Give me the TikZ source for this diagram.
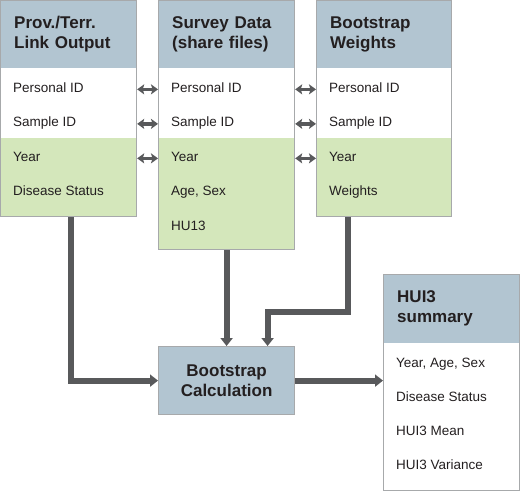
\documentclass[tikz,border=0pt]{standalone}
\usepackage{fontspec}
\setmainfont{Liberation Sans}
\usetikzlibrary{arrows.meta,positioning,calc}
\definecolor{headblue}{RGB}{178,197,209}
\definecolor{rowgreen}{RGB}{212,231,187}
\definecolor{framegray}{RGB}{167,169,171}
\definecolor{wire}{RGB}{88,89,91}
\definecolor{ink}{RGB}{35,31,32}
\tikzset{
  headcell/.style={fill=headblue, anchor=north west, minimum height=68pt, text width=108pt,
    inner xsep=14pt, inner ysep=0pt, align=left, font=\fontsize{17}{20}\selectfont\bfseries},
  tablebox/.style={draw=framegray, line width=1.2pt, anchor=north west, minimum width=136pt, inner sep=0pt},
  item/.style={anchor=base west, inner sep=0pt},
  calcbox/.style={draw=framegray, line width=1.2pt, fill=headblue, anchor=north west, minimum width=136pt,
    minimum height=68pt, align=center, font=\fontsize{17}{20}\selectfont\bfseries},
  flow/.style={-{Triangle[length=8pt,width=12pt]}, line width=6pt, draw=wire},
  link/.style={{Stealth[length=7pt,width=10pt,inset=1.5pt]}-{Stealth[length=7pt,width=10pt,inset=1.5pt]},
    line width=3.4pt, draw=wire}
}

\begin{document}
\begin{tikzpicture}[x=1pt, y=-1pt, font=\fontsize{13.5}{16}\selectfont, text=ink]
  \useasboundingbox (0,0) rectangle (520,491);

  \fill[rowgreen] (0,138) rectangle (136,216);
  \fill[rowgreen] (158,138) rectangle (294,249);
  \fill[rowgreen] (316,138) rectangle (451,216);

  \node[headcell] (prov-head) at (0,0) {Prov./Terr.\\Link Output};
  \node[headcell] (survey-head) at (158,0) {Survey Data\\(share files)};
  \node[headcell, text width=107pt] (weights-head) at (316,0) {Bootstrap\\Weights};
  \node[headcell, minimum height=69pt] (summary-head) at (383,274) {HUI3\\summary};

  \node[tablebox, minimum height=216pt] (prov) at (0,0) {};
  \node[tablebox, minimum height=249pt] (survey) at (158,0) {};
  \node[tablebox, minimum width=135pt, minimum height=216pt] (weights) at (316,0) {};
  \node[tablebox, minimum height=216pt] (summary) at (383,274) {};
  \node[calcbox] (calc) at (158,346) {Bootstrap\\Calculation};

  \node[item] (prov-pid) at (13,92) {Personal ID};
  \node[item] (prov-sid) at (13,126.5) {Sample ID};
  \node[item] (prov-year) at (13,161) {Year};
  \node[item] (prov-status) at (13,195.5) {Disease Status};

  \node[item] (survey-pid) at (171,92) {Personal ID};
  \node[item] (survey-sid) at (171,126.5) {Sample ID};
  \node[item] (survey-year) at (171,161) {Year};
  \node[item] (survey-agesex) at (171,195.5) {Age, Sex};
  \node[item] (survey-hu) at (171,230) {HU13};

  \node[item] (weights-pid) at (329,92) {Personal ID};
  \node[item] (weights-sid) at (329,126.5) {Sample ID};
  \node[item] (weights-year) at (329,161) {Year};
  \node[item] (weights-wt) at (329,195.5) {Weights};

  \node[item] (summary-yas) at (396,367.5) {Year, Age, Sex};
  \node[item] (summary-status) at (396,401.5) {Disease Status};
  \node[item] (summary-mean) at (396,435.5) {HUI3 Mean};
  \node[item] (summary-var) at (396,469.5) {HUI3 Variance};

  \draw[link] (prov.east |- prov-pid.mid) -- (survey.west |- prov-pid.mid);
  \draw[link] (prov.east |- prov-sid.mid) -- (survey.west |- prov-sid.mid);
  \draw[link] (prov.east |- prov-year.mid) -- (survey.west |- prov-year.mid);
  \draw[link] (survey.east |- survey-pid.mid) -- (weights.west |- survey-pid.mid);
  \draw[link] (survey.east |- survey-sid.mid) -- (weights.west |- survey-sid.mid);
  \draw[link] (survey.east |- survey-year.mid) -- (weights.west |- survey-year.mid);

  \draw[flow] ([xshift=2pt]prov.south) |- (calc.west);
  \draw[flow] (survey.south) -- (calc.north);
  \draw[flow] ([xshift=-36pt]weights.south) -- ++(0,95) -| ([xshift=41pt]calc.north);
  \draw[flow] (calc.east) -- (summary.west |- calc.east);
\end{tikzpicture}
\end{document}
